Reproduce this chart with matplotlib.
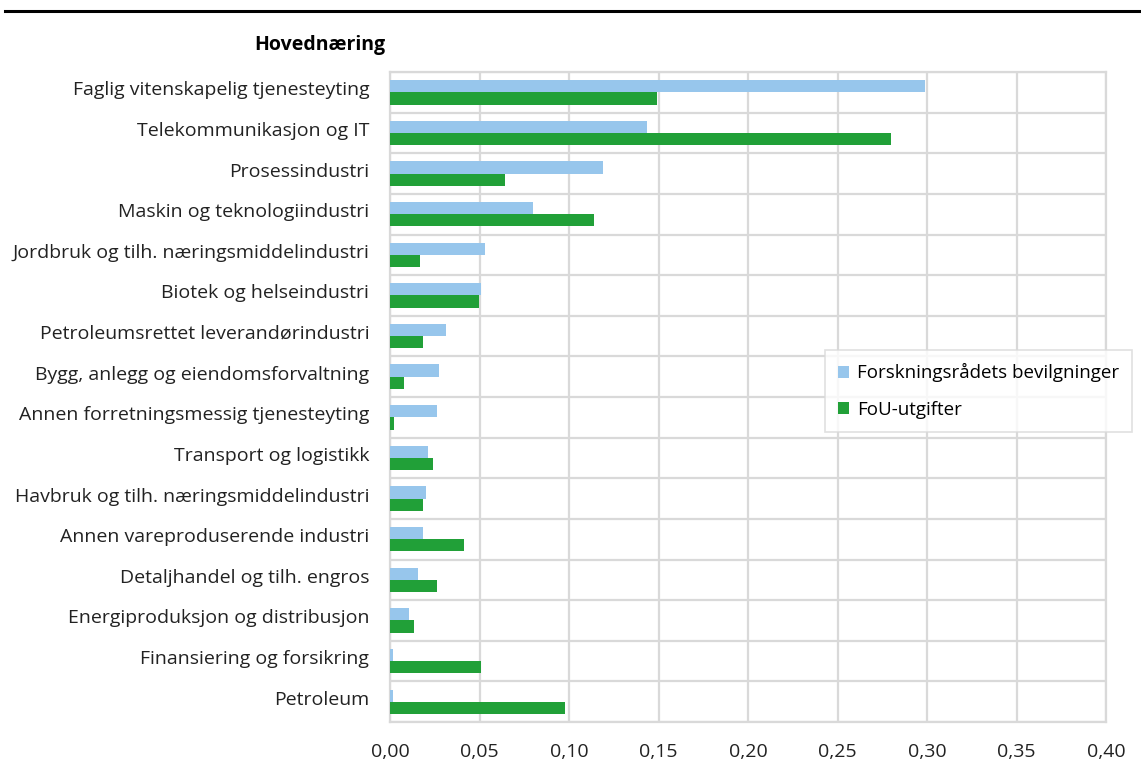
import numpy as np
import matplotlib.pyplot as plt
import matplotlib.transforms as mtransforms
from matplotlib.lines import Line2D
from matplotlib.ticker import FuncFormatter

plt.rcParams['font.family'] = ['Open Sans', 'DejaVu Sans']

categories = [
	'Faglig vitenskapelig tjenesteyting',
	'Telekommunikasjon og IT',
	'Prosessindustri',
	'Maskin og teknologiindustri',
	'Jordbruk og tilh. næringsmiddelindustri',
	'Biotek og helseindustri',
	'Petroleumsrettet leverandørindustri',
	'Bygg, anlegg og eiendomsforvaltning',
	'Annen forretningsmessig tjenesteyting',
	'Transport og logistikk',
	'Havbruk og tilh. næringsmiddelindustri',
	'Annen vareproduserende industri',
	'Detaljhandel og tilh. engros',
	'Energiproduksjon og distribusjon',
	'Finansiering og forsikring',
	'Petroleum',
]
bevilgninger = [0.299, 0.1436, 0.119, 0.080, 0.053, 0.0506, 0.0313, 0.0273, 0.0262,
	0.021, 0.0199, 0.0187, 0.0159, 0.0107, 0.0015, 0.0015]
fou = [0.149, 0.280, 0.0645, 0.1138, 0.0169, 0.0496, 0.0182, 0.0079, 0.0021,
	0.0238, 0.0185, 0.0416, 0.026, 0.0135, 0.0506, 0.098]

fig = plt.figure(figsize = (11.41, 7.63), dpi = 100)
ax = fig.add_axes([390 / 1141, 1 - 722 / 763, (1106 - 390) / 1141, (722 - 72) / 763])

y = np.arange(len(categories))
h = 0.3
ax.barh(y - h / 2, bevilgninger, height = h, color = '#97c6ec', label = 'Forskningsrådets bevilgninger', zorder = 3)
ax.barh(y + h / 2, fou, height = h, color = '#21a038', label = 'FoU-utgifter', zorder = 3)

ax.set_xlim(0, 0.40)
ax.set_ylim(len(categories) - 0.5, -0.5)
ax.set_xticks(np.arange(0, 0.401, 0.05))
ax.xaxis.set_major_formatter(FuncFormatter(lambda v, p: ('%.2f' % v).replace('.', ',')))
ax.set_yticks(y)
ax.set_yticklabels(categories)
ax.set_yticks(np.arange(-0.5, len(categories), 1), minor = True)
ax.tick_params(axis = 'both', which = 'both', length = 0, labelsize = 14, colors = '#222222')
ax.tick_params(axis = 'y', pad = 15)
ax.tick_params(axis = 'x', pad = 15)

# labels sit a little above the category centre in the original
shift = mtransforms.ScaledTranslation(0, 4 / 100, fig.dpi_scale_trans)
for lab in ax.get_yticklabels():
	lab.set_transform(lab.get_transform() + shift)

ax.grid(axis = 'x', which = 'major', color = '#d9d9d9', linewidth = 1.6, zorder = 0)
ax.grid(axis = 'y', which = 'minor', color = '#d9d9d9', linewidth = 1.6, zorder = 0)
for s in ax.spines.values():
	s.set_color('#d9d9d9')
	s.set_linewidth(1.6)

fig.text(385 / 1141, 1 - 45 / 763, 'Hovednæring', ha = 'right', va = 'center', fontsize = 14, fontweight = 'bold')
fig.add_artist(Line2D([5 / 1141, 1], [1 - 11 / 763, 1 - 11 / 763], color = 'black', linewidth = 2.2))

leg = ax.legend(loc = 'upper left', bbox_to_anchor = ((825 - 390) / 716, (722 - 350) / 650),
	fontsize = 13.5, frameon = True, fancybox = False, handlelength = 0.6, handleheight = 0.6,
	handletextpad = 0.4, labelspacing = 1.0, borderpad = 0.7, borderaxespad = 0)
leg.get_frame().set_edgecolor('#d9d9d9')
leg.get_frame().set_linewidth(1.2)
leg.set_zorder(5)

fig.savefig('out.png', dpi = 100)
